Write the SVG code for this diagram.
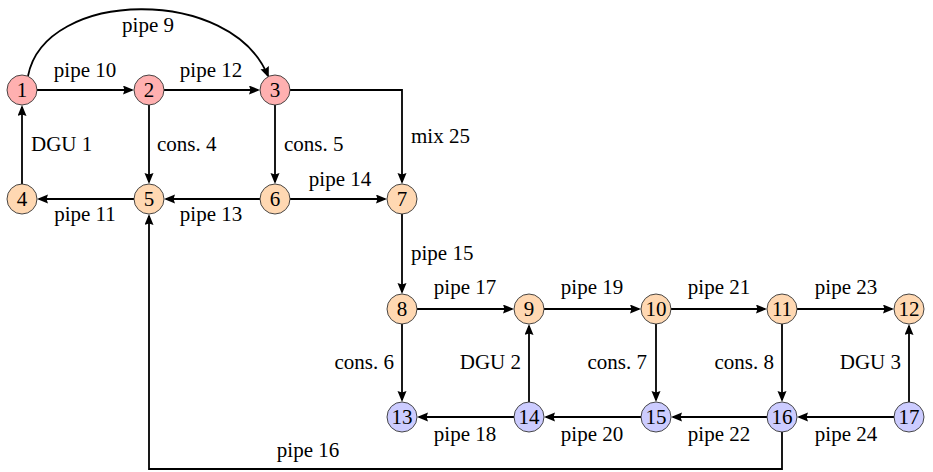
<svg xmlns="http://www.w3.org/2000/svg" width="933" height="472" viewBox="0 0 933 472">
<style>
.n circle{stroke:#333;stroke-width:0.9}
.r circle{fill:#FFB0B0}
.o circle{fill:#FFD8B2}
.b circle{fill:#CCCCFF}
.n text{font-family:"Liberation Serif",serif;font-size:21px;text-anchor:middle;fill:#000}
.e path{fill:none;stroke:#000;stroke-width:1.8;marker-end:url(#ar)}
.l text{font-family:"Liberation Serif",serif;font-size:21px;fill:#000}
.m{text-anchor:middle}
.s{text-anchor:start}
.t{text-anchor:end}
</style>
<defs>
<marker id="ar" markerUnits="userSpaceOnUse" markerWidth="12" markerHeight="10" refX="9" refY="4.5" orient="auto">
<path d="M0,0 L11,4.5 L0,9 L1.5,4.5 z" fill="#000"/>
</marker>
</defs>
<g id="connectors" class="e">
<path d="M28,76 C45,-12 232,-14 268,76"/>
<path d="M37,90 H132"/>
<path d="M164,90 H258"/>
<path d="M290,90 H402 V182"/>
<path d="M22,184 V107"/>
<path d="M149,105 V182"/>
<path d="M275,105 V182"/>
<path d="M134,199 H39"/>
<path d="M260,199 H166"/>
<path d="M290,199 H385"/>
<path d="M402,214 V292"/>
<path d="M417,309 H512"/>
<path d="M544,309 H639"/>
<path d="M671,309 H765"/>
<path d="M797,309 H892"/>
<path d="M402,324 V400"/>
<path d="M529,402 V326"/>
<path d="M656,324 V400"/>
<path d="M782,324 V400"/>
<path d="M909,402 V326"/>
<path d="M514,417 H419"/>
<path d="M641,417 H546"/>
<path d="M767,417 H673"/>
<path d="M894,417 H799"/>
<path d="M782,432 V469 H149 V216"/>
</g>
<g id="labels" class="l">
<text class="m" x="148" y="32">pipe 9</text>
<text class="m" x="85" y="77">pipe 10</text>
<text class="m" x="211" y="77">pipe 12</text>
<text class="s" x="31" y="151">DGU 1</text>
<text class="s" x="157" y="151">cons. 4</text>
<text class="s" x="284" y="151">cons. 5</text>
<text class="s" x="411" y="143">mix 25</text>
<text class="m" x="340" y="186">pipe 14</text>
<text class="m" x="85" y="221">pipe 11</text>
<text class="m" x="211" y="221">pipe 13</text>
<text class="s" x="411" y="260">pipe 15</text>
<text class="m" x="465" y="294">pipe 17</text>
<text class="m" x="592" y="294">pipe 19</text>
<text class="m" x="719" y="294">pipe 21</text>
<text class="m" x="846" y="294">pipe 23</text>
<text class="t" x="394" y="369">cons. 6</text>
<text class="t" x="521" y="369">DGU 2</text>
<text class="t" x="647" y="369">cons. 7</text>
<text class="t" x="774" y="369">cons. 8</text>
<text class="t" x="901" y="369">DGU 3</text>
<text class="m" x="465" y="441">pipe 18</text>
<text class="m" x="592" y="441">pipe 20</text>
<text class="m" x="719" y="441">pipe 22</text>
<text class="m" x="846" y="441">pipe 24</text>
<text class="m" x="308" y="457">pipe 16</text>
</g>
<g id="n1" class="n r"><circle cx="22" cy="90" r="15"/><text x="22" y="97">1</text></g>
<g id="n2" class="n r"><circle cx="149" cy="90" r="15"/><text x="149" y="97">2</text></g>
<g id="n3" class="n r"><circle cx="275" cy="90" r="15"/><text x="275" y="97">3</text></g>
<g id="n4" class="n o"><circle cx="22" cy="199" r="15"/><text x="22" y="206">4</text></g>
<g id="n5" class="n o"><circle cx="149" cy="199" r="15"/><text x="149" y="206">5</text></g>
<g id="n6" class="n o"><circle cx="275" cy="199" r="15"/><text x="275" y="206">6</text></g>
<g id="n7" class="n o"><circle cx="402" cy="199" r="15"/><text x="402" y="206">7</text></g>
<g id="n8" class="n o"><circle cx="402" cy="309" r="15"/><text x="402" y="316">8</text></g>
<g id="n9" class="n o"><circle cx="529" cy="309" r="15"/><text x="529" y="316">9</text></g>
<g id="n10" class="n o"><circle cx="656" cy="309" r="15"/><text x="656" y="316">10</text></g>
<g id="n11" class="n o"><circle cx="782" cy="309" r="15"/><text x="782" y="316">11</text></g>
<g id="n12" class="n o"><circle cx="909" cy="309" r="15"/><text x="909" y="316">12</text></g>
<g id="n13" class="n b"><circle cx="402" cy="417" r="15"/><text x="402" y="424">13</text></g>
<g id="n14" class="n b"><circle cx="529" cy="417" r="15"/><text x="529" y="424">14</text></g>
<g id="n15" class="n b"><circle cx="656" cy="417" r="15"/><text x="656" y="424">15</text></g>
<g id="n16" class="n b"><circle cx="782" cy="417" r="15"/><text x="782" y="424">16</text></g>
<g id="n17" class="n b"><circle cx="909" cy="417" r="15"/><text x="909" y="424">17</text></g>
</svg>
